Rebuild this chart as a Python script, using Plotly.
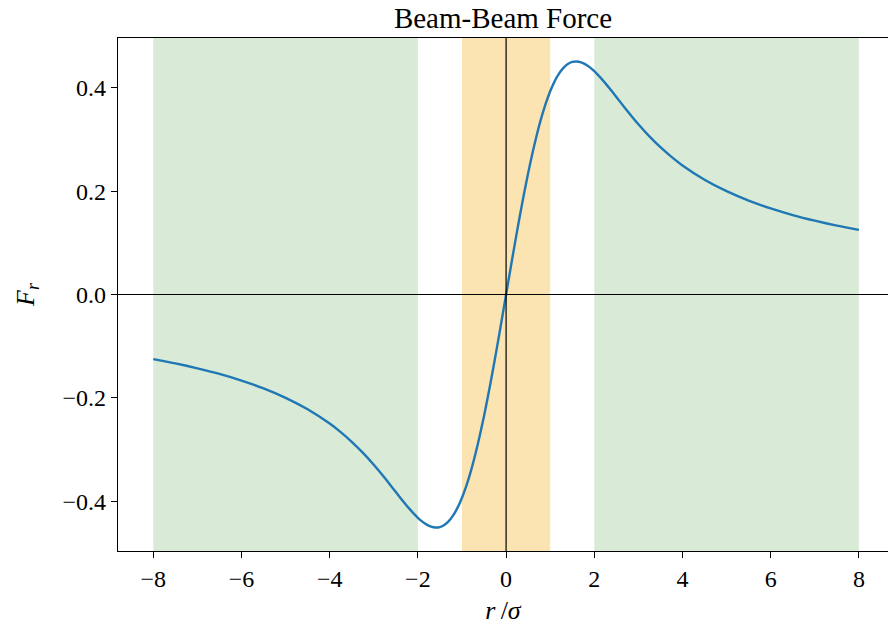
import plotly.graph_objects as go

# Radial beam-beam kick for a round Gaussian beam, sampled at r/sigma >= 0
r_pos = [0.0, 0.1, 0.2, 0.3, 0.4, 0.5, 0.6, 0.7, 0.8, 0.9, 1.0, 1.1, 1.2, 1.3,
         1.4, 1.5, 1.6, 1.7, 1.8, 1.9, 2.0, 2.2, 2.4, 2.6, 2.8, 3.0, 3.25, 3.5,
         3.75, 4.0, 4.5, 5.0, 5.5, 6.0, 6.5, 7.0, 7.5, 8.0]
f_pos = [0.0, 0.0499, 0.0990, 0.1467, 0.1922, 0.2350, 0.2746, 0.3104, 0.3423,
         0.3700, 0.3935, 0.4127, 0.4277, 0.4388, 0.4462, 0.4502, 0.4512, 0.4496,
         0.4456, 0.4398, 0.4323, 0.4141, 0.3933, 0.3715, 0.3501, 0.3296, 0.3061,
         0.2851, 0.2664, 0.2499, 0.2222, 0.2000, 0.1818, 0.1667, 0.1538, 0.1429,
         0.1333, 0.1250]

# The force is odd in r: mirror the sampled half onto negative r
r_vals = [-v for v in reversed(r_pos[1:])] + r_pos
f_vals = [-v for v in reversed(f_pos[1:])] + f_pos

# Shaded regions (in units of sigma)
green_bands = [(-8, -2), (2, 8)]
core_band = (-1, 1)

x_ticks = [-8, -6, -4, -2, 0, 2, 4, 6, 8]
y_ticks = [-0.4, -0.2, 0.0, 0.2, 0.4]


def fmt(v, nd):
    s = f"{abs(v):.{nd}f}"
    return ("\u2212" + s) if v < 0 else s


font_family = "Liberation Serif, DejaVu Serif, serif"

fig = go.Figure()

shapes = []
for x0, x1 in green_bands:
    shapes.append(dict(type="rect", xref="x", yref="paper", x0=x0, x1=x1, y0=0, y1=1,
                       fillcolor="rgb(217,234,215)", line_width=0, layer="below"))
shapes.append(dict(type="rect", xref="x", yref="paper", x0=core_band[0], x1=core_band[1],
                   y0=0, y1=1, fillcolor="rgb(252,227,178)", line_width=0, layer="below"))
# Zero axes drawn as thin black lines
shapes.append(dict(type="line", xref="x", yref="paper", x0=0, x1=0, y0=0, y1=1,
                   line=dict(color="black", width=1.2)))
shapes.append(dict(type="line", xref="paper", yref="y", x0=0, x1=1, y0=0, y1=0,
                   line=dict(color="black", width=1.2)))

fig.add_trace(go.Scatter(
    x=r_vals, y=f_vals, mode="lines",
    line=dict(color="#1f77b4", width=2.4, shape="spline", smoothing=0.6),
    showlegend=False, hoverinfo="skip",
))

fig.update_layout(
    width=888, height=632,
    margin=dict(l=118, r=0, t=38, b=81),
    paper_bgcolor="white", plot_bgcolor="white",
    font=dict(family=font_family, size=24, color="black"),
    title=dict(text="Beam-Beam Force", x=0.5, xanchor="center", y=0.972, yanchor="middle",
               xref="paper", font=dict(family=font_family, size=29, color="black")),
    shapes=shapes,
    xaxis=dict(
        range=[-8.8, 8.66], showgrid=False, zeroline=False,
        showline=True, linecolor="black", linewidth=1.3, mirror=True,
        ticks="outside", ticklen=6, tickwidth=1.2, tickcolor="black",
        tickvals=x_ticks, ticktext=[fmt(v, 0) for v in x_ticks],
        tickfont=dict(size=24),
        title=dict(text="<i>r</i>\u2009/<i>σ</i>", font=dict(size=26), standoff=9),
    ),
    yaxis=dict(
        range=[-0.4966, 0.4966], showgrid=False, zeroline=False,
        showline=True, linecolor="black", linewidth=1.3,
        ticks="outside", ticklen=6, tickwidth=1.2, tickcolor="black",
        tickvals=y_ticks, ticktext=[fmt(v, 1) for v in y_ticks],
        tickfont=dict(size=24),
        title=dict(text="<i>F</i><sub><i>r</i></sub>", font=dict(size=26), standoff=20),
    ),
)

fig.write_html("out.html")
